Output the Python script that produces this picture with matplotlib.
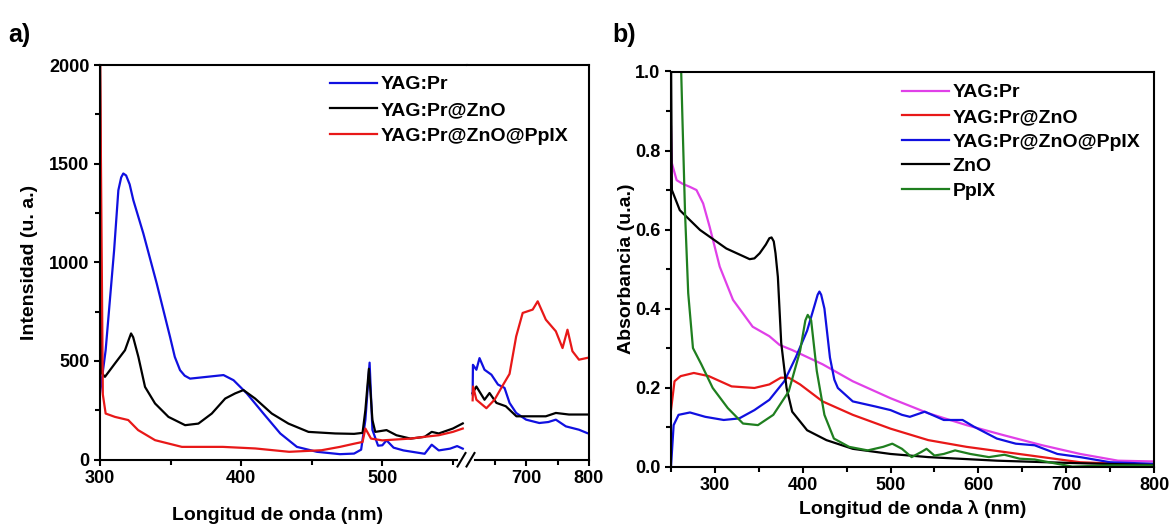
#!/usr/bin/env python3
# -*- coding: utf-8 -*-

import numpy as np
from matplotlib import pyplot as plt
from matplotlib.ticker import MultipleLocator, FixedLocator

"""
Two-panel figure: a) emission spectra with broken x axis, b) absorbance spectra
"""

# ---- panel a: emission, left segment (300-557 nm) ----
a_blue_x = [300, 304, 310, 313, 315, 316.5, 318.5, 321, 323.6, 330.7, 340.2, 349.6, 353, 356.7,
            360, 363.8, 375.7, 387.5, 394.6, 404, 415.8, 427.7, 439.5, 453.7, 470, 480, 485, 488,
            491, 493, 497, 500, 503, 508, 515, 530, 535, 540, 548, 553, 557]
a_blue_y = [335, 554, 1061, 1365, 1430, 1450, 1440, 1395, 1315, 1146, 892, 622, 520, 453,
            425, 410, 419, 428, 402, 335, 233, 132, 64, 39, 27, 30, 50, 200,
            491, 150, 70, 72, 97, 60, 46, 29, 75, 46, 55, 68, 55]

a_black_x = [300, 301, 303.5, 310.6, 317.7, 320.5, 322, 323.5, 327.2, 331.9, 339, 348.5, 360.3,
             369.7, 379.2, 388.7, 395.7, 401.6, 409.9, 421.7, 433.5, 447.7, 466.6, 480, 486, 488,
             490.5, 493, 495, 503, 510, 520, 530, 535, 540, 550, 557]
a_black_y = [2100, 440, 419, 487, 554, 610, 639, 620, 520, 368, 284, 216, 174,
             182, 233, 309, 335, 352, 309, 233, 182, 140, 132, 130, 135, 250,
             460, 200, 140, 149, 123, 106, 115, 140, 132, 157, 183]

a_red_x = [300, 302, 304, 310.6, 320, 327, 339, 358, 387, 410, 434, 457, 470, 480, 486, 488,
           492, 500, 520, 530, 540, 550, 557]
a_red_y = [2100, 330, 233, 216, 200, 149, 98, 64, 64, 56, 39, 47, 64, 80, 89, 157,
           106, 97, 106, 115, 123, 140, 157]

# ---- panel a: emission, right segment (610-800 nm) ----
b_blue_x = [614, 614.5, 620, 625, 633, 644, 654.5, 665, 673, 683.6, 699.5, 720.6, 735, 747, 763, 784, 797]
b_blue_y = [330, 480, 455, 514, 455, 430, 380, 363, 287, 236, 202, 185, 190, 202, 168, 151, 134]

b_black_x = [614, 620, 633, 641, 652, 667, 684, 705, 731, 747, 768, 797]
b_black_y = [337, 370, 303, 337, 287, 270, 219, 219, 219, 236, 228, 228]

b_red_x = [614, 614.8, 620, 636, 649, 662, 673, 683.6, 694, 710, 718, 731, 747, 757.7, 765.6,
           773.5, 784, 797]
b_red_y = [300, 370, 303, 260, 303, 375, 434, 624, 743, 760, 802, 709, 650, 565, 658,
           549, 506, 515]

a_labels = ["YAG:Pr", "YAG:Pr@ZnO", "YAG:Pr@ZnO@PpIX"]

# ---- panel b: absorbance ----
mag_x = [250, 251, 256.4, 263, 271.5, 279, 286.6, 294, 305.5, 320.6, 343, 362, 373.6, 388, 422.6,
         457, 500, 543, 586.5, 629.6, 672.8, 716, 759, 800]
mag_y = [0.86, 0.768, 0.725, 0.716, 0.708, 0.70, 0.666, 0.607, 0.506, 0.422, 0.354, 0.33, 0.308,
         0.295, 0.259, 0.216, 0.173, 0.135, 0.105, 0.079, 0.054, 0.032, 0.015, 0.013]

red_x = [250, 254, 261, 276, 293, 319, 345, 362, 375, 384, 397, 422.6, 457, 500, 543, 586.5,
         629.6, 672.8, 716, 800]
red_y = [0.143, 0.216, 0.229, 0.237, 0.229, 0.203, 0.199, 0.208, 0.225, 0.225, 0.208, 0.165,
         0.131, 0.096, 0.067, 0.05, 0.037, 0.024, 0.011, 0.004]

blue_x = [250, 253, 258.6, 271.6, 289, 310, 327.7, 345, 362, 379, 392, 405, 414, 417, 419, 421,
          424.7, 431, 436, 440, 457, 483, 500, 513, 522, 539, 560.6, 582, 595, 621, 642.6, 664,
          690, 716, 750, 800]
blue_y = [0.0, 0.105, 0.131, 0.137, 0.126, 0.118, 0.122, 0.143, 0.169, 0.216, 0.276, 0.344,
          0.412, 0.435, 0.443, 0.435, 0.40, 0.276, 0.22, 0.199, 0.165, 0.152, 0.143, 0.131,
          0.126, 0.139, 0.118, 0.118, 0.101, 0.071, 0.058, 0.054, 0.032, 0.024, 0.011, 0.007]

zno_x = [250, 251, 260, 283, 313, 339.6, 345, 351, 358, 362, 364.5, 367, 369, 371.7, 375.5,
         381.6, 388, 405, 427, 457, 500, 543, 621, 707, 800]
zno_y = [1.05, 0.70, 0.649, 0.599, 0.552, 0.525, 0.527, 0.54, 0.562, 0.578, 0.58, 0.57, 0.54,
         0.48, 0.313, 0.199, 0.139, 0.092, 0.067, 0.045, 0.032, 0.024, 0.015, 0.009, 0.004]

ppix_x = [261, 263, 266, 269.6, 275, 284.5, 297.5, 314.7, 332, 349, 366.5, 384, 397, 403, 405.7,
          409.6, 416, 424.7, 435.5, 452.8, 474, 491.6, 502, 513, 524, 535, 541, 550, 560.6,
          573.5, 590.8, 612, 629.6, 647, 664, 690, 707, 750, 800]
ppix_y = [1.05, 0.882, 0.642, 0.439, 0.30, 0.259, 0.199, 0.148, 0.109, 0.105, 0.131, 0.19,
          0.293, 0.37, 0.384, 0.37, 0.242, 0.131, 0.071, 0.05, 0.041, 0.05, 0.058, 0.045, 0.024,
          0.037, 0.045, 0.028, 0.032, 0.041, 0.032, 0.024, 0.03, 0.02, 0.018, 0.007, 0.0,
          0.003, 0.003]

b_labels = ["YAG:Pr", "YAG:Pr@ZnO", "YAG:Pr@ZnO@PpIX", "ZnO", "PpIX"]

BLUE = "#1010e0"
RED = "#e81818"
MAG = "#e040e8"
GREEN = "#1f7f1f"
BLACK = "#000000"

plt.rcParams['font.family'] = ['Liberation Sans', 'DejaVu Sans']
plt.rcParams['font.weight'] = 'bold'
plt.rcParams['axes.labelweight'] = 'bold'

LW = 1.6
SPINE = 1.5
TICK_FS = 13
LABEL_FS = 14


def style_axis(ax):
    for s in ax.spines.values():
        s.set_linewidth(SPINE)
    ax.tick_params(which='major', direction='out', length=4.5, width=SPINE, labelsize=TICK_FS, pad=3)
    ax.tick_params(which='minor', direction='out', length=3.5, width=SPINE)


def main():
    fig = plt.figure(figsize=(11.74, 5.29), dpi=100)

    # panel a, broken x axis made of two axes
    axL = fig.add_axes([100 / 1174, 1 - 459.5 / 529, 367 / 1174, 394.5 / 529])
    axR = fig.add_axes([467 / 1174, 1 - 459.5 / 529, 122 / 1174, 394.5 / 529])

    lines = []
    lines += axL.plot(a_blue_x, a_blue_y, color=BLUE, lw=LW)
    lines += axL.plot(a_black_x, a_black_y, color=BLACK, lw=LW)
    lines += axL.plot(a_red_x, a_red_y, color=RED, lw=LW)
    axR.plot(b_blue_x, b_blue_y, color=BLUE, lw=LW)
    axR.plot(b_black_x, b_black_y, color=BLACK, lw=LW)
    axR.plot(b_red_x, b_red_y, color=RED, lw=LW)

    axL.set_xlim(300, 560)
    axR.set_xlim(605, 800)
    for ax in (axL, axR):
        ax.set_ylim(0, 2000)
        style_axis(ax)

    axL.xaxis.set_major_locator(FixedLocator([300, 400, 500]))
    axL.xaxis.set_minor_locator(FixedLocator([350, 450, 550]))
    axL.yaxis.set_major_locator(MultipleLocator(500))
    axL.yaxis.set_minor_locator(MultipleLocator(250))
    axL.spines['right'].set_visible(False)
    axL.spines['bottom'].set_bounds(300, 553)

    axR.xaxis.set_major_locator(FixedLocator([700, 800]))
    axR.xaxis.set_minor_locator(FixedLocator([650, 750]))
    axR.spines['left'].set_visible(False)
    axR.spines['bottom'].set_bounds(617, 800)
    axR.yaxis.set_visible(False)

    # break marks on the bottom axis
    for x0 in (457.5, 466.5):
        fig.add_artist(plt.Line2D([x0 / 1174, (x0 + 8) / 1174],
                                  [1 - 466.5 / 529, 1 - 453 / 529],
                                  color='black', lw=SPINE, transform=fig.transFigure))

    axL.set_ylabel("Intensidad (u. a.)", fontsize=LABEL_FS, fontweight='bold', labelpad=8)
    fig.text(278 / 1174, 1 - 516 / 529, "Longitud de onda (nm)", fontsize=LABEL_FS,
             fontweight='bold', ha='center', va='center')
    fig.legend(lines, a_labels, loc='upper left', bbox_to_anchor=(322 / 1174, 1 - 68 / 529),
               frameon=False, fontsize=LABEL_FS, handlelength=2.45, handletextpad=0.15,
               labelspacing=0.42, borderaxespad=0.0)
    fig.text(8 / 1174, 1 - 35 / 529, "a)", fontsize=18, fontweight='bold', va='center')

    # panel b
    axb = fig.add_axes([671 / 1174, 1 - 466.6 / 529, 483 / 1174, 395.1 / 529])
    axb.plot(mag_x, mag_y, color=MAG, lw=LW, label=b_labels[0])
    axb.plot(red_x, red_y, color=RED, lw=LW, label=b_labels[1])
    axb.plot(blue_x, blue_y, color=BLUE, lw=LW, label=b_labels[2])
    axb.plot(zno_x, zno_y, color=BLACK, lw=LW, label=b_labels[3])
    axb.plot(ppix_x, ppix_y, color=GREEN, lw=LW, label=b_labels[4])
    axb.set_xlim(250, 800)
    axb.set_ylim(0, 1.0)
    axb.xaxis.set_major_locator(FixedLocator([300, 400, 500, 600, 700, 800]))
    axb.xaxis.set_minor_locator(MultipleLocator(50))
    axb.yaxis.set_major_locator(MultipleLocator(0.2))
    axb.yaxis.set_minor_locator(MultipleLocator(0.1))
    axb.yaxis.set_major_formatter(plt.FormatStrFormatter('%.1f'))
    style_axis(axb)
    axb.set_xlabel("Longitud de onda \u03bb (nm)", fontsize=LABEL_FS, fontweight='bold', labelpad=4)
    axb.set_ylabel("Absorbancia (u.a.)", fontsize=LABEL_FS, fontweight='bold', labelpad=0)
    fig.legend(axb.get_lines(), b_labels, loc='upper left',
               bbox_to_anchor=(894 / 1174, 1 - 76 / 529), frameon=False, fontsize=LABEL_FS,
               handlelength=2.45, handletextpad=0.15, labelspacing=0.36, borderaxespad=0.0)
    fig.text(612 / 1174, 1 - 35 / 529, "b)", fontsize=18, fontweight='bold', va='center')

    fig.savefig("out.png", dpi=100)
    plt.close(fig)


if __name__ == "__main__":
    main()
